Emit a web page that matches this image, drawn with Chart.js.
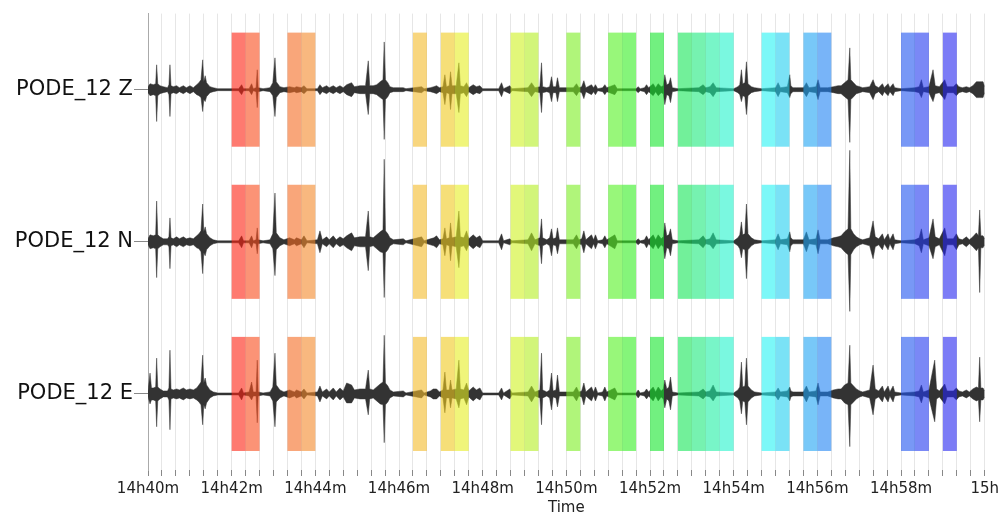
<!DOCTYPE html>
<html>
<head>
<meta charset="utf-8">
<script src="https://cdn.jsdelivr.net/npm/chart.js@4.4.1/dist/chart.umd.min.js"></script>
<style>
  html, body { margin: 0; padding: 0; background: #fff; }
  #wrap { width: 1003px; height: 514px; }
</style>
</head>
<body>
<div id="wrap"><canvas id="seismo"></canvas></div>
<script>
// station components, top to bottom
const traceNames = ['PODE_12 Z', 'PODE_12 N', 'PODE_12 E'];
const traceBase = [2.5, 1.5, 0.5];

// x ticks every 2 minutes, seconds after 14h40m
const xTickLabels = ['14h40m', '14h42m', '14h44m', '14h46m', '14h48m', '14h50m',
  '14h52m', '14h54m', '14h56m', '14h58m', '15h'];

// selected 20 s windows (start, seconds after 14h40m)
const winStart = [120, 140, 200, 220, 380, 420, 440, 520, 540, 600, 660, 680,
  720, 760, 780, 800, 820, 880, 900, 940, 960, 1080, 1100, 1140];
const WIN_LEN = 20;

// envelope of each trace: [seconds, amplitude up, amplitude down] in counts
const traceZ = [
  [0,3,3],[2.9,6,6],[7.6,5,5],[11,6,6],[12.4,25,32],[14,6,6],[17.2,4,4],[22,3,3],[28,2,2],[30,5,5],
  [31.5,25,27],[33,4,4],[36.3,3,3],[41.1,4,4],[45,2,2],[50.7,4,4],[55,2,2],[60.2,4,4],[65,2,2],[69.8,5,5],
  [73,7,6],[76,10,8],[78.4,30,22],[80,8,10],[82,14,12],[84,7,7],[88.9,3,3],[93.7,2,2],[100,1,1],[130,1,1],
  [134.3,5,5],[137,1,1],[145,1,1],[148.6,6,5],[151,1,1],[155,2,2],[156.7,20,18],[158,2,2],[165,1,1],[175,2,2],
  [179,7,6],[182.1,32,27],[184,8,8],[189.2,3,3],[195,2,2],[203,3,3],[210,2,2],[213,3,3],[220,2,2],[223.7,4,4],
  [228,1,1],[243,1,1],[246.6,5,5],[250,2,2],[256.2,4,4],[260,2,2],[265.7,4,4],[270,2,2],[275.3,4,4],[280,2,2],
  [285,5,5],[292,7,7],[296,3,3],[303.9,4,4],[312,4,4],[315.9,29,25],[318,4,4],[323,4,4],[328,5,5],[333,8,8],
  [337,10,10],[338.8,48,50],[340.5,10,10],[344,7,7],[347,3,3],[352,2,2],[366.1,2,2],[370,1,1],[392.4,3,3],[396,1,1],
  [405,2,2],[410,3,3],[413.9,4,4],[418,2,2],[423,3,3],[425.8,15,15],[428,3,3],[432,4,4],[433.9,18,20],[436,4,4],
  [442,4,4],[445.9,27,23],[448,4,4],[453,3,3],[456.9,7,7],[460,2,2],[466.4,5,5],[471,3,3],[476,4,4],[480,1,1],
  [503,1,1],[507.1,7,7],[510,1,1],[519,4,4],[522,1,1],[545,2,2],[550.1,7,7],[555,2,2],[562,3,3],[564.4,27,23],
  [566,3,3],[572,2,2],[576,3,3],[578.7,13,12],[581,3,3],[585,3,3],[587.3,12,12],[590,2,2],[600,2,2],[610,2,2],
  [614.6,6,6],[618,2,2],[622,3,3],[625.1,9,9],[628,2,2],[636.1,5,5],[639,2,2],[641.8,5,5],[645,1,1],[652,2,2],
  [655.2,5,5],[658,2,2],[669.5,5,5],[673,1,1],[700,1,1],[703,3,3],[706,1,1],[712,2,2],[715,5,5],[718,2,2],
  [724.5,6,6],[728,2,2],[731.7,6,6],[736,3,3],[739,4,4],[741.2,15,15],[744,5,5],[747,6,6],[749.4,12,13],[752,2,2],
  [760,1,1],[790,2,2],[796.2,5,5],[800,2,2],[806,3,3],[810.5,7,7],[815,2,2],[840,1,1],[846,3,3],[848.7,5,5],
  [851.1,20,12],[853,6,6],[856,7,7],[858.3,28,25],[860.5,6,6],[865.4,3,3],[870,2,2],[880,1,1],[900,2,2],[903.7,7,7],
  [907,2,2],[917,3,3],[920.4,15,8],[922,4,4],[925,2,2],[930,2,2],[940,2,2],[944.3,7,7],[948,2,2],[958,3,3],
  [961,10,10],[964,2,2],[975,2,2],[983,3,3],[989.7,4,4],[994,4,4],[999,7,7],[1004,10,10],[1006.5,42,53],[1008,10,10],
  [1012,7,7],[1016,4,4],[1020.8,3,3],[1025,2,2],[1035,3,3],[1039.9,10,10],[1043,4,4],[1048,2,2],[1053.3,6,6],[1056,2,2],
  [1061.4,6,6],[1064,2,2],[1068.6,6,6],[1071,2,2],[1080,1,1],[1100,2,2],[1106,3,3],[1109.2,10,8],[1112,2,2],[1120,3,3],
  [1125.9,20,12],[1129,4,4],[1135,3,3],[1142.7,10,10],[1146,3,3],[1155,3,3],[1159.4,6,6],[1163,3,3],[1168,2,2],[1173.7,3,3],
  [1178,2,2],[1183,4,4],[1188.1,8,8],[1192.8,8,8],[1197.6,8,8],[1200,3,3]
];

const traceN = [
  [0,3,3],[2.9,7,7],[7.6,6,6],[11,7,7],[12.4,41,36],[14,7,7],[17.2,5,5],[22,3,3],[28,3,3],[30,5,5],
  [31.5,24,27],[33,4,4],[36.3,3,3],[41.1,5,5],[45,3,3],[50.7,5,5],[55,3,3],[60.2,4,4],[65,3,3],[69.8,6,6],
  [73,8,7],[76,11,10],[78.4,38,32],[80,10,11],[82,15,14],[84,8,8],[88.9,4,4],[93.7,2,2],[100,1,1],[130,1,1],
  [134.3,6,6],[137,1,1],[145,1,1],[148.6,6,6],[151,1,1],[155,2,2],[156.7,14,12],[158,2,2],[165,1,1],[175,2,2],
  [179,8,7],[182.1,49,34],[184,9,8],[189.2,4,4],[195,2,2],[203,4,4],[210,2,2],[213,4,4],[220,2,2],[223.7,6,6],
  [228,1,1],[243,2,2],[246.6,11,11],[250,2,2],[256.2,5,5],[260,2,2],[265.7,6,6],[270,2,2],[275.3,5,5],[280,3,3],
  [285,6,6],[292,9,9],[296,4,4],[303.9,5,5],[312,5,5],[315.9,31,29],[318,5,5],[323,4,4],[328,7,7],[333,10,10],
  [337,12,11],[338.8,83,56],[340.5,11,11],[344,8,8],[347,4,4],[352,2,2],[366.1,3,3],[370,1,1],[392.4,5,5],[396,1,1],
  [405,3,3],[410,4,4],[413.9,6,6],[418,2,2],[423,3,3],[425.8,14,14],[428,3,3],[432,4,4],[433.9,19,19],[436,4,4],
  [442,5,5],[445.9,31,26],[448,5,5],[453,4,4],[456.9,11,9],[460,3,3],[466.4,7,7],[471,4,4],[476,6,6],[480,1,1],
  [503,1,1],[507.1,8,8],[510,1,1],[519,3,3],[522,1,1],[545,2,2],[550.1,9,9],[555,2,2],[562,4,4],[564.4,23,22],
  [566,4,4],[572,2,2],[576,4,4],[578.7,13,14],[581,3,3],[585,4,4],[587.3,14,12],[590,2,2],[600,2,2],[610,2,2],
  [614.6,7,7],[618,2,2],[622,3,3],[625.1,11,11],[628,2,2],[636.1,7,7],[639,2,2],[641.8,7,7],[645,1,1],[652,2,2],
  [655.2,6,6],[658,2,2],[669.5,7,7],[673,1,1],[700,1,1],[703,3,3],[706,1,1],[712,2,2],[715,6,6],[718,2,2],
  [724.5,7,7],[728,2,2],[731.7,7,7],[736,3,3],[739,5,5],[741.2,19,17],[744,6,6],[747,7,7],[749.4,13,14],[752,2,2],
  [760,1,1],[790,2,2],[796.2,6,6],[800,2,2],[806,3,3],[810.5,9,7],[815,2,2],[840,1,1],[846,4,4],[848.7,7,7],
  [851.1,20,16],[853,7,7],[856,8,8],[858.3,38,37],[860.5,8,8],[865.4,4,4],[870,2,2],[880,1,1],[900,2,2],[903.7,8,8],
  [907,2,2],[917,3,3],[920.4,10,10],[922,4,4],[925,2,2],[930,2,2],[940,2,2],[944.3,10,10],[948,2,2],[958,3,3],
  [961,12,12],[964,2,2],[975,2,2],[983,4,4],[989.7,5,5],[994,6,6],[999,10,10],[1004,13,13],[1006.5,92,70],[1008,13,13],
  [1012,8,8],[1016,5,5],[1020.8,3,3],[1025,2,2],[1035,4,4],[1039.9,21,17],[1043,5,5],[1048,3,3],[1053.3,8,8],[1056,2,2],
  [1061.4,8,8],[1064,2,2],[1068.6,8,8],[1071,2,2],[1080,1,1],[1100,2,2],[1106,4,4],[1109.2,13,11],[1112,2,2],[1120,4,4],
  [1125.9,23,17],[1129,5,5],[1135,3,3],[1142.7,14,14],[1146,3,3],[1155,3,3],[1159.4,8,8],[1163,3,3],[1168,2,2],[1173.7,5,5],
  [1178,2,2],[1183,5,5],[1188.1,9,9],[1191,6,6],[1192.8,32,51],[1194.5,6,6],[1197.6,6,6],[1200,3,3]
];

const traceE = [
  [0,3,3],[2.9,21,10],[5,6,6],[7.6,6,6],[11,7,7],[12.4,36,33],[14,7,7],[17.2,5,5],[22,3,3],[28,3,3],
  [30,6,6],[31.5,44,36],[33,5,5],[36.3,4,4],[41.1,5,5],[45,4,4],[50.7,6,6],[55,4,4],[60.2,5,5],[65,4,4],
  [69.8,6,6],[73,9,8],[76,12,11],[78.4,39,31],[80,11,11],[82,16,15],[84,9,9],[88.9,4,4],[93.7,2,2],[100,1,1],
  [130,1,1],[134.3,6,6],[137,1,1],[145,2,2],[148.6,12,6],[151,2,2],[155,2,2],[156.7,34,29],[158,2,2],[165,1,1],
  [175,2,2],[179,7,7],[182.1,41,33],[184,9,8],[189.2,4,4],[195,2,2],[203,4,4],[210,2,2],[213,4,4],[220,2,2],
  [223.7,5,5],[228,1,1],[243,2,2],[246.6,8,8],[250,2,2],[256.2,5,5],[260,2,2],[265.7,6,6],[270,2,2],[275.3,6,6],
  [280,3,3],[284.9,11,9],[292,9,9],[296,4,4],[303.9,5,5],[312,5,5],[315.9,24,21],[318,5,5],[323,4,4],[328,7,7],
  [333,10,10],[337,12,11],[338.8,59,49],[340.5,11,11],[344,8,8],[347,4,4],[352,2,2],[366.1,3,3],[370,1,1],[392.4,4,4],
  [396,1,1],[405,3,3],[409.1,5,5],[413.9,5,5],[418,2,2],[423,4,4],[425.8,22,19],[428,4,4],[432,4,4],[433.9,14,14],
  [436,4,4],[442,5,5],[445.9,34,14],[448,5,5],[453,4,4],[456.9,11,11],[460,3,3],[466.4,7,7],[471,4,4],[476,6,6],
  [480,1,1],[503,1,1],[507.1,6,6],[510,1,1],[519,5,5],[522,1,1],[545,2,2],[550.1,8,8],[555,2,2],[562,4,4],
  [564.4,41,31],[566,4,4],[572,2,2],[576,4,4],[578.7,21,16],[581,3,3],[585,4,4],[587.3,19,13],[590,2,2],[600,2,2],
  [610,2,2],[614.6,7,7],[618,2,2],[622,3,3],[625.1,11,11],[628,2,2],[636.1,7,7],[639,2,2],[641.8,7,7],[645,1,1],
  [652,2,2],[655.2,7,7],[658,2,2],[669.5,6,6],[673,1,1],[700,1,1],[703,4,4],[706,1,1],[712,2,2],[715,5,5],
  [718,2,2],[724.5,7,7],[728,2,2],[731.7,7,7],[736,3,3],[739,5,5],[741.2,14,14],[744,5,5],[747,7,7],[749.4,17,16],
  [752,2,2],[760,1,1],[790,2,2],[796.2,5,5],[800,2,2],[806,3,3],[810.5,9,7],[815,2,2],[840,1,1],[846,4,4],
  [848.7,7,7],[851.1,32,20],[853,7,7],[856,8,8],[858.3,36,31],[860.5,8,8],[865.4,4,4],[870,2,2],[880,1,1],[900,2,2],
  [903.7,6,6],[907,2,2],[917,3,3],[920.4,7,7],[922,3,3],[925,2,2],[930,2,2],[940,2,2],[944.3,8,8],[948,2,2],
  [958,3,3],[961,11,11],[964,2,2],[975,2,2],[983,4,4],[989.7,5,5],[994,5,5],[999,9,9],[1004,11,11],[1006.5,49,53],
  [1008,11,11],[1012,8,8],[1016,5,5],[1020.8,3,3],[1025,2,2],[1035,4,4],[1039.9,29,21],[1043,5,5],[1048,3,3],[1053.3,8,8],
  [1056,2,2],[1061.4,8,8],[1064,2,2],[1068.6,8,8],[1071,2,2],[1080,1,1],[1100,2,2],[1106,3,3],[1109.2,9,9],[1112,2,2],
  [1120,4,4],[1128.3,34,28],[1131,5,5],[1135,3,3],[1142.7,10,10],[1146,3,3],[1155,3,3],[1159.4,6,6],[1163,3,3],[1168,2,2],
  [1173.7,4,4],[1178,2,2],[1183,5,5],[1188.1,7,7],[1191,6,6],[1192.8,37,28],[1194.5,6,6],[1197.6,6,6],[1200,3,3]
];

const traces = [traceZ, traceN, traceE];

// window colours, red through violet, drawn translucent over the traces
const winColor = [
  'rgb(253,33,17)', 'rgb(248,75,27)', 'rgb(245,107,33)', 'rgb(243,137,42)', 'rgb(243,187,42)',
  'rgb(240,202,30)', 'rgb(230,238,33)', 'rgb(207,242,33)', 'rgb(180,238,33)', 'rgb(123,238,33)',
  'rgb(83,242,33)', 'rgb(52,238,33)', 'rgb(20,230,43)', 'rgb(20,230,87)', 'rgb(27,233,123)',
  'rgb(30,238,163)', 'rgb(33,243,203)', 'rgb(37,243,243)', 'rgb(33,207,240)', 'rgb(30,163,243)',
  'rgb(30,130,243)', 'rgb(30,83,240)', 'rgb(33,57,240)', 'rgb(37,37,240)'
];

const GAIN = 153;       // counts per trace spacing
const BOX_HALF = 0.375; // half height of a window box, in trace spacings
const WAVE = '#333333';
const FONT = 'DejaVu Sans';

const datasets = [];
traces.forEach((tr, i) => {
  const base = traceBase[i];
  datasets.push({
    label: traceNames[i],
    data: tr.map(([t, up]) => ({ x: t, y: base + up / GAIN })),
    fill: '+1'
  });
  datasets.push({
    label: traceNames[i] + ' low',
    data: tr.map(([t, , down]) => ({ x: t, y: base - down / GAIN })),
    fill: false
  });
});
datasets.forEach(d => {
  d.borderColor = WAVE;
  d.backgroundColor = WAVE;
  d.borderWidth = 0.5;
  d.pointRadius = 0;
  d.tension = 0;
});

// translucent boxes over the selected windows
const windowBoxes = {
  id: 'windowBoxes',
  afterDatasetsDraw(chart) {
    const { ctx, chartArea, scales: { x, y } } = chart;
    ctx.save();
    ctx.beginPath();
    ctx.rect(chartArea.left, chartArea.top, chartArea.width, chartArea.height);
    ctx.clip();
    ctx.globalAlpha = 0.6;
    winStart.forEach((t, i) => {
      const x1 = x.getPixelForValue(t);
      const x2 = x.getPixelForValue(t + WIN_LEN);
      ctx.fillStyle = winColor[i];
      traceBase.forEach(b => {
        const y1 = y.getPixelForValue(b + BOX_HALF);
        const y2 = y.getPixelForValue(b - BOX_HALF);
        ctx.fillRect(x1, y1, x2 - x1, y2 - y1);
      });
    });
    ctx.restore();
  }
};

new Chart(document.getElementById('seismo'), {
  type: 'line',
  data: { datasets },
  plugins: [windowBoxes],
  options: {
    responsive: true,
    maintainAspectRatio: false,
    animation: false,
    layout: { padding: { top: 10, right: 18, bottom: 0, left: 0 } },
    plugins: {
      legend: { display: false },
      tooltip: { enabled: false }
    },
    scales: {
      x: {
        type: 'linear',
        min: 0,
        max: 1200,
        afterFit: s => { s.height = 44; },
        ticks: {
          stepSize: 20,
          autoSkip: false,
          maxRotation: 0,
          padding: 4,
          color: '#222',
          font: { family: FONT, size: 15 },
          callback: v => (v % 120 === 0 ? xTickLabels[v / 120] : '')
        },
        grid: {
          color: c => (c.tick && c.tick.value === 0 ? 'rgba(0,0,0,0)' : '#e6e6e6'),
          tickColor: '#888',
          tickLength: 6
        },
        border: { display: false },
        title: {
          display: true,
          text: 'Time',
          color: '#222',
          font: { family: FONT, size: 15 },
          padding: { top: 0, bottom: -3 }
        }
      },
      y: {
        type: 'linear',
        min: 0,
        max: 3,
        afterFit: s => { s.width = 148; },
        afterBuildTicks: s => { s.ticks = traceBase.map(v => ({ value: v })); },
        ticks: {
          padding: 1,
          color: '#111',
          font: { family: FONT, size: 21 },
          callback: v => traceNames[traceBase.indexOf(v)]
        },
        grid: {
          drawOnChartArea: false,
          tickLength: 14,
          tickColor: '#888'
        },
        border: { display: true, color: '#aaa', dash: [2, 2] }
      }
    }
  }
});
</script>
</body>
</html>
